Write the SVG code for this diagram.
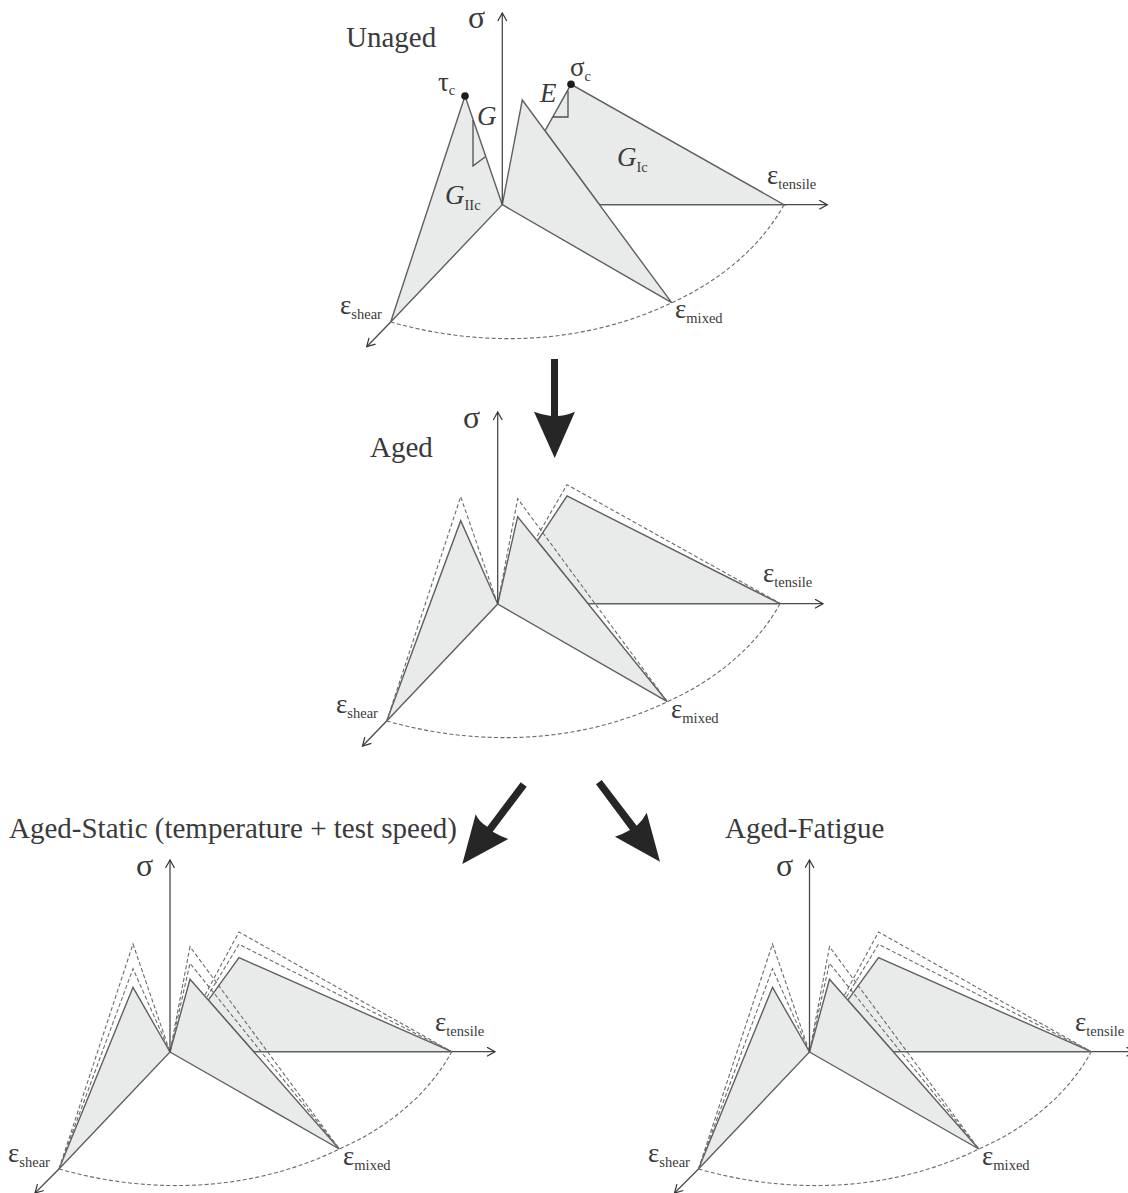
<svg xmlns="http://www.w3.org/2000/svg" width="1128" height="1193" viewBox="0 0 1128 1193">
<style>
text{font-family:"Liberation Serif","DejaVu Serif",serif;fill:#3a3a3a}
.t{font-size:29px}
.s{font-size:32px}
.e{font-size:27px}
.sub{font-size:14.5px}
.i{font-style:italic;font-size:27px}
.f{fill:#e9ebea;stroke:#5f5f5f;stroke-width:1.4;stroke-linejoin:miter}
.l{fill:none;stroke:#4f4f4f;stroke-width:1.3}
.d{fill:none;stroke:#6a6a6a;stroke-width:1.1;stroke-dasharray:4 2.4}
.a{fill:none;stroke:#4a4a4a;stroke-width:1.3}
.b{fill:#262626}
</style>
<defs>
<marker id="ah" markerWidth="12" markerHeight="12" refX="9" refY="5" orient="auto" markerUnits="userSpaceOnUse"><path d="M1,0.5 L9,5 L1,9.5" fill="none" stroke="#333" stroke-width="1.2"/></marker>
</defs>
<g id="connectors">
<path class="b" d="M551,359 H558 V416 Q568,415 575,411.7 L554.7,458 L534,411.7 Q542,415 551,416 Z"/>
<path class="b" d="M520.7,782.3 L526.7,786.7 L492.7,831.7 Q500,836 508.3,839 L462.3,864 L475.7,814.3 Q479,822 487.3,826.7 Z"/>
<path class="b" d="M596,784.3 L601.7,780 L636.7,825.7 Q643,820 646.7,812.7 L660,861.7 L615,836.7 Q623,834 630,830 Z"/>
</g>
<g id="unaged">
<path class="f" d="M545,130.8 L571,84.3 L784,204.7 H599.5 Z"/>
<path class="f" d="M502.3,204.7 L465,96 L390.7,322 Z"/>
<path class="f" d="M502.3,204.7 L522.3,100 L671.7,302.7 Z"/>
<path class="l" d="M473,120 V166 L485,157"/>
<path class="l" d="M553,117 H568 V91"/>
<line class="a" x1="502.3" y1="204.7" x2="502.3" y2="13" marker-end="url(#ah)"/>
<line class="a" x1="784" y1="204.7" x2="827.3" y2="204.7" marker-end="url(#ah)"/>
<line class="a" x1="390.7" y1="322" x2="366.7" y2="346.7" marker-end="url(#ah)"/>
<path class="d" d="M390.7,322 C490,350 590,342 671.7,302.7 C722,280 762,245 784,204.7"/>
<circle cx="465" cy="96" r="3.8" fill="#1c1c1c"/>
<circle cx="571" cy="84.3" r="3.8" fill="#1c1c1c"/>
<text class="t" x="346" y="47">Unaged</text>
<text class="s" x="468" y="28">σ</text>
<text class="e" x="438" y="91">τ<tspan class="sub" dy="4">c</tspan></text>
<text class="e" x="570" y="76">σ<tspan class="sub" dy="5">c</tspan></text>
<text class="i" x="477" y="125">G</text>
<text class="i" x="540" y="102">E</text>
<text class="i" x="617" y="166">G<tspan class="sub" font-style="normal" dy="6">Ic</tspan></text>
<text class="i" x="445" y="204">G<tspan class="sub" font-style="normal" dy="6">IIc</tspan></text>
<text class="e" x="767" y="184">ε<tspan class="sub" dy="5">tensile</tspan></text>
<text class="e" x="340" y="314">ε<tspan class="sub" dy="5">shear</tspan></text>
<text class="e" x="675" y="318">ε<tspan class="sub" dy="5">mixed</tspan></text>
</g>
<g id="aged">
<path class="f" d="M537.3,540.9 L567,496 L780,603.7 H587.9 Z"/>
<path class="f" d="M497.7,604 L460.7,520.7 L386.7,721 Z"/>
<path class="f" d="M497.7,604 L517.7,516.7 L667.3,701.7 Z"/>
<path class="d" d="M386.7,721 L460.7,496.7 L497.7,604 L517.7,498.7 L667.3,701.7"/>
<path class="d" d="M537.3,536 L567,484.7 L780,603.3"/>
<line class="a" x1="497.7" y1="604" x2="497.7" y2="412" marker-end="url(#ah)"/>
<line class="a" x1="780" y1="603.7" x2="823" y2="603.7" marker-end="url(#ah)"/>
<line class="a" x1="386.7" y1="721" x2="362.5" y2="746" marker-end="url(#ah)"/>
<path class="d" d="M386.7,721 C486,749 586,741 667.3,701.7 C718,679 758,644 780,603.7"/>
<text class="t" x="370" y="457">Aged</text>
<text class="s" x="463" y="428">σ</text>
<text class="e" x="763" y="582">ε<tspan class="sub" dy="5">tensile</tspan></text>
<text class="e" x="336" y="713">ε<tspan class="sub" dy="5">shear</tspan></text>
<text class="e" x="671" y="718">ε<tspan class="sub" dy="5">mixed</tspan></text>
</g>
<g id="aged-static">
<path class="f" d="M208.3,1000.1 L239,957.7 L451.7,1051.7 H253.7 Z"/>
<path class="f" d="M170,1052 L133,987.3 L59,1169 Z"/>
<path class="f" d="M170,1052 L190,979.3 L339.3,1149 Z"/>
<path class="d" d="M59,1169 L133,968.7 L170,1052 L190,963.3 L339.3,1149"/>
<path class="d" d="M59,1169 L133,944 L170,1052 L190,946.7 L339.3,1149"/>
<path class="d" d="M207,997 L239,944.3 L451.7,1051.7"/>
<path class="d" d="M205,995 L239,932 L451.7,1051.7"/>
<line class="a" x1="170" y1="1052" x2="170" y2="860" marker-end="url(#ah)"/>
<line class="a" x1="451.7" y1="1051.7" x2="495" y2="1051.7" marker-end="url(#ah)"/>
<line class="a" x1="59" y1="1169" x2="35" y2="1193" marker-end="url(#ah)"/>
<path class="d" d="M59,1169 C158,1197 258,1189 339.3,1149 C390,1127 430,1092 451.7,1051.7"/>
<text class="t" x="9" y="838">Aged-Static (temperature + test speed)</text>
<text class="s" x="136" y="876">σ</text>
<text class="e" x="435" y="1031">ε<tspan class="sub" dy="5">tensile</tspan></text>
<text class="e" x="8" y="1162">ε<tspan class="sub" dy="5">shear</tspan></text>
<text class="e" x="343" y="1165">ε<tspan class="sub" dy="5">mixed</tspan></text>
</g>
<g id="aged-fatigue">
<path class="f" d="M847.8,1000.1 L878.5,957.7 L1091.2,1051.7 H893.2 Z"/>
<path class="f" d="M809.5,1052 L772.5,987.3 L698.5,1169 Z"/>
<path class="f" d="M809.5,1052 L829.5,979.3 L978.8,1149 Z"/>
<path class="d" d="M698.5,1169 L772.5,968.7 L809.5,1052 L829.5,963.3 L978.8,1149"/>
<path class="d" d="M698.5,1169 L772.5,944 L809.5,1052 L829.5,946.7 L978.8,1149"/>
<path class="d" d="M846.5,997 L878.5,944.3 L1091.2,1051.7"/>
<path class="d" d="M844.5,995 L878.5,932 L1091.2,1051.7"/>
<line class="a" x1="809.5" y1="1052" x2="809.5" y2="860" marker-end="url(#ah)"/>
<line class="a" x1="1091.2" y1="1051.7" x2="1134.5" y2="1051.7" marker-end="url(#ah)"/>
<line class="a" x1="698.5" y1="1169" x2="674.5" y2="1193" marker-end="url(#ah)"/>
<path class="d" d="M698.5,1169 C797.5,1197 897.5,1189 978.8,1149 C1029.5,1127 1069.5,1092 1091.2,1051.7"/>
<text class="t" x="725" y="838">Aged-Fatigue</text>
<text class="s" x="776" y="876">σ</text>
<text class="e" x="1075" y="1031">ε<tspan class="sub" dy="5">tensile</tspan></text>
<text class="e" x="648" y="1162">ε<tspan class="sub" dy="5">shear</tspan></text>
<text class="e" x="982" y="1165">ε<tspan class="sub" dy="5">mixed</tspan></text>
</g>
</svg>
